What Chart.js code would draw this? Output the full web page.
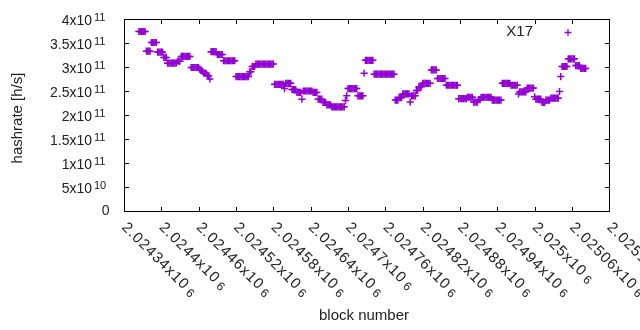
<!DOCTYPE html>
<html>
<head>
<meta charset="utf-8">
<script src="https://cdn.jsdelivr.net/npm/chart.js@4.4.0/dist/chart.umd.min.js"></script>
<style>
  body { margin: 0; background: #fff; }
  canvas { display: block; }
</style>
</head>
<body>
<canvas id="chart" width="640" height="330"></canvas>
<script>
// block number for each sample (every second block)
const blockNumbers = [
  2024364,2024366,2024368,2024370,2024372,2024374,
  2024376,2024378,2024380,2024382,
  2024384,2024386,2024388,2024390,2024392,
  2024394,2024396,2024398,2024400,2024402,
  2024404,2024406,2024408,
  2024410,2024412,2024414,2024416,2024418,2024420,2024422,2024424,
  2024426,2024428,2024430,
  2024432,2024434,2024436,2024438,2024440,2024442,2024444,2024446,
  2024448,2024450,2024452,2024454,2024456,2024458,2024460,
  2024462,2024464,2024466,
  2024468,2024470,2024472,
  2024474,2024476,2024478,
  2024480,2024482,2024484,2024486,2024488,
  2024490,2024492,2024494,2024496,2024498,
  2024500,2024502,2024504,2024506,2024508,2024510,2024512,2024514,2024516,2024518,
  2024520,2024522,2024524,2024526,2024528,2024530,2024532,2024534,2024536,2024538,2024540,
  2024542,2024544,2024546,2024548,2024550,
  2024552,2024554,2024556,2024558,2024560,2024562,2024564,2024566,2024568,2024570,2024572,2024574,2024576,2024578,2024580,
  2024582,2024584,2024586,2024588,2024590,2024592,2024594,2024596,2024598,
  2024600,2024602,2024604,2024606,2024608,
  2024610,2024612,2024614,2024616,
  2024618,2024620,2024622,2024624,2024626,
  2024628,2024630,2024632,2024634,2024636,2024638,2024640,2024642,
  2024644,2024646,2024648,2024650,
  2024652,2024654,2024656,2024658,
  2024660,2024662,2024664,
  2024666,2024668,2024670,2024672,
  2024674,2024676,2024678,2024680,2024682,2024684,2024686,2024688,2024690,2024692,2024694,
  2024696,2024698,
  2024700,2024702,2024704,2024706,2024708,2024710,2024712,2024714,
  2024716,2024718,2024720,2024722,2024724,2024726,
  2024728,2024730,2024732,2024734,2024736,2024738,2024740,
  2024742,2024744,2024746,2024748,2024750,2024752,2024754,2024756,2024758,2024760,2024762,2024764,2024766,2024768,2024770,2024772,2024774,
  2024776,2024778,2024780,2024782,2024784,2024786,
  2024788,2024790,2024792,2024794,2024796,2024798,2024800,
  2024802,2024804,2024806,2024808,2024810,2024812,2024814,2024816,2024818,
  2024820,2024822,2024824,2024826,2024828,2024830,2024832,
  2024834,2024836,2024838,2024840,2024842,
  2024844,2024846,2024848,2024850,2024852,2024854,2024856,
  2024858,2024860,2024862,2024864,2024866,2024868,2024870,2024872,2024874,2024876,
  2024878,2024880,2024882,2024884,2024886,2024888,2024890,
  2024892,2024894,2024896,2024898,2024900,
  2024902,2024904,2024906,2024908,2024910,2024912,
  2024914,2024916,2024918,2024920,2024922,2024924,2024926,2024928,2024930,
  2024932,2024934,2024936,2024938,2024940,2024942,2024944,2024946,
  2024948,2024950,2024952,2024954,2024956,2024958,2024960,
  2024962,2024964,2024966,2024968,2024970,2024972,2024974,
  2024976,2024978,2024980,2024982,2024984,2024986,
  2024988,2024990,2024992,2024994,2024996,2024998,2025000,
  2025002,2025004,2025006,2025008,2025010,
  2025012,2025014,2025016,2025018,2025020,2025022,2025024,
  2025026,2025028,2025030,2025032,2025034,2025036,2025038,2025040,2025042,
  2025044,2025046,2025048,2025050,2025052,
  2025054,2025056,2025058,2025060,2025062,2025064,
  2025066,2025068,2025070,2025072,
  2025074,2025076,2025078,2025080,2025082
];

// hashrate in units of 10^9 h/s, same order as blockNumbers
const hashrateG = [
  374,374,374,374,374,374,
  333,333,333,333,
  351,351,351,351,351,
  331,331,331,331,331,
  320,320,320,
  308,308,308,308,308,308,308,308,
  312,312,312,
  322,322,322,322,322,322,322,322,
  299,299,299,299,299,299,299,
  295,293,291,
  287,287,287,
  283,281,275,
  332,332,332,332,332,
  326,326,326,326,326,
  313,313,313,313,313,313,313,313,313,313,
  280,280,280,280,280,280,280,280,280,280,280,
  290,290,301,301,301,
  306,306,306,306,306,306,306,306,306,306,306,306,306,306,306,
  264,264,264,264,264,264,264,264,255,
  266,266,266,266,266,
  253,253,253,253,
  247,247,247,247,233,
  250,250,250,250,250,250,250,250,
  247,247,247,247,
  233,233,233,233,
  226,226,226,
  221,221,221,221,
  217,217,217,217,217,217,217,217,217,217,217,
  230,240,
  255,255,255,255,255,255,255,255,
  240,240,240,240,240,287,
  314,314,314,314,314,314,314,
  285,285,285,285,285,285,285,285,285,285,285,285,285,285,285,285,285,
  231,231,231,236,236,236,
  244,244,244,244,244,244,227,
  240,240,240,240,251,251,259,259,259,
  266,266,266,266,266,266,266,
  294,294,294,294,294,
  276,276,276,276,276,276,276,
  262,262,262,262,262,262,262,262,262,262,
  234,234,234,234,234,234,234,
  237,237,237,237,237,
  227,227,227,227,232,232,
  237,237,237,237,237,237,237,237,237,
  231,231,231,231,231,231,231,231,
  266,266,266,266,266,266,266,
  262,262,262,262,262,262,244,
  248,248,248,248,248,248,
  256,256,256,256,256,256,238,
  233,233,233,233,233,
  226,226,226,231,231,231,231,
  235,235,235,235,235,235,235,249,280,
  301,301,301,301,301,
  317,317,317,317,317,317,
  303,303,303,303,
  297,297,297,297,297
];

const seriesName = 'X17';

// axis ticks
const xTicks = [2024340,2024400,2024460,2024520,2024580,2024640,2024700,2024760,2024820,2024880,2024940,2025000,2025060,2025120];
const xTickLabels = ['2.02434','2.0244','2.02446','2.02452','2.02458','2.02464','2.0247','2.02476','2.02482','2.02488','2.02494','2.025','2.02506','2.02512'];
const xTickExp = '6';
const yTicks = [0,5e10,1e11,1.5e11,2e11,2.5e11,3e11,3.5e11,4e11];
const yTickLabels = ['0','5','1','1.5','2','2.5','3','3.5','4'];
const yTickExp = ['','10','11','11','11','11','11','11','11'];

const purple = '#9400d3';
const fontName = '"Liberation Sans", Arial, sans-serif';

const points = blockNumbers.map((b, i) => ({ x: b, y: hashrateG[i] * 1e9 }));

// gnuplot style frame, ticks and labels
const framePlugin = {
  id: 'framePlugin',
  afterDraw(chart) {
    const ctx = chart.ctx;
    const a = chart.chartArea;
    const xs = chart.scales.x, ys = chart.scales.y;
    const L = Math.round(a.left) + 0.5, R = Math.round(a.right) + 0.5;
    const T = Math.round(a.top) + 0.5, B = Math.round(a.bottom) + 0.5;
    const tl = 4.5;
    ctx.save();
    ctx.strokeStyle = '#000';
    ctx.lineWidth = 1;
    ctx.beginPath();
    xTicks.forEach(v => {
      const px = Math.round(xs.getPixelForValue(v)) + 0.5;
      ctx.moveTo(px, B); ctx.lineTo(px, B - tl);
      ctx.moveTo(px, T); ctx.lineTo(px, T + tl);
    });
    yTicks.forEach(v => {
      const py = Math.round(ys.getPixelForValue(v)) + 0.5;
      ctx.moveTo(L, py); ctx.lineTo(L + tl, py);
      ctx.moveTo(R, py); ctx.lineTo(R - tl, py);
    });
    ctx.stroke();
    ctx.strokeRect(L, T, R - L, B - T);

    ctx.fillStyle = '#222';
    // y tick labels
    yTicks.forEach((v, i) => {
      const py = ys.getPixelForValue(v);
      ctx.font = '14px ' + fontName;
      ctx.textAlign = 'right';
      ctx.textBaseline = 'middle';
      if (yTickExp[i]) {
        ctx.fillText(yTickLabels[i] + 'x10', 92, py + 2.5);
        ctx.font = '11px ' + fontName;
        ctx.textAlign = 'left';
        ctx.fillText(yTickExp[i], 94, py - 1.5);
      } else {
        ctx.fillText(yTickLabels[i], 109.5, py);
      }
    });
    // x tick labels, rotated
    xTicks.forEach((v, i) => {
      const px = xs.getPixelForValue(v);
      ctx.save();
      ctx.translate(px, 225);
      ctx.rotate(Math.PI / 4);
      ctx.font = '15px ' + fontName;
      ctx.letterSpacing = '1px';
      ctx.textAlign = 'left';
      ctx.textBaseline = 'middle';
      const base = xTickLabels[i] + 'x10';
      ctx.fillText(base, 0, 0);
      const w = ctx.measureText(base).width;
      ctx.font = '12px ' + fontName;
      ctx.fillText(xTickExp, w + 3, 2);
      ctx.restore();
    });
    ctx.letterSpacing = '0px';
    // axis titles
    ctx.font = '15px ' + fontName;
    ctx.textAlign = 'center';
    ctx.textBaseline = 'middle';
    ctx.fillText('block number', 364, 316);
    ctx.save();
    ctx.translate(17.5, 118);
    ctx.rotate(-Math.PI / 2);
    ctx.fillText('hashrate [h/s]', 0, 0);
    ctx.restore();
    // key
    ctx.font = '15px ' + fontName;
    ctx.textAlign = 'right';
    ctx.fillText(seriesName, 533, 32);
    ctx.strokeStyle = purple;
    ctx.lineWidth = 1.3;
    ctx.beginPath();
    ctx.moveTo(564.5, 32.5); ctx.lineTo(571.5, 32.5);
    ctx.moveTo(568, 29); ctx.lineTo(568, 36);
    ctx.stroke();
    ctx.restore();
  }
};

new Chart(document.getElementById('chart'), {
  type: 'scatter',
  data: {
    datasets: [{
      label: seriesName,
      data: points,
      pointStyle: 'cross',
      pointRadius: 3.6,
      pointBorderWidth: 1.5,
      borderColor: purple,
      backgroundColor: purple,
      showLine: false
    }]
  },
  options: {
    responsive: false,
    animation: false,
    devicePixelRatio: 1,
    layout: { padding: { left: 0, top: 19, right: 30.7, bottom: 0 } },
    plugins: { legend: { display: false }, tooltip: { enabled: false } },
    scales: {
      x: {
        type: 'linear',
        min: 2024340,
        max: 2025120,
        ticks: { display: false },
        grid: { display: false },
        border: { display: false },
        afterFit(s) { s.height = 119; }
      },
      y: {
        min: 0,
        max: 4e11,
        ticks: { display: false },
        grid: { display: false },
        border: { display: false },
        afterFit(s) { s.width = 124; }
      }
    }
  },
  plugins: [framePlugin]
});
</script>
</body>
</html>
